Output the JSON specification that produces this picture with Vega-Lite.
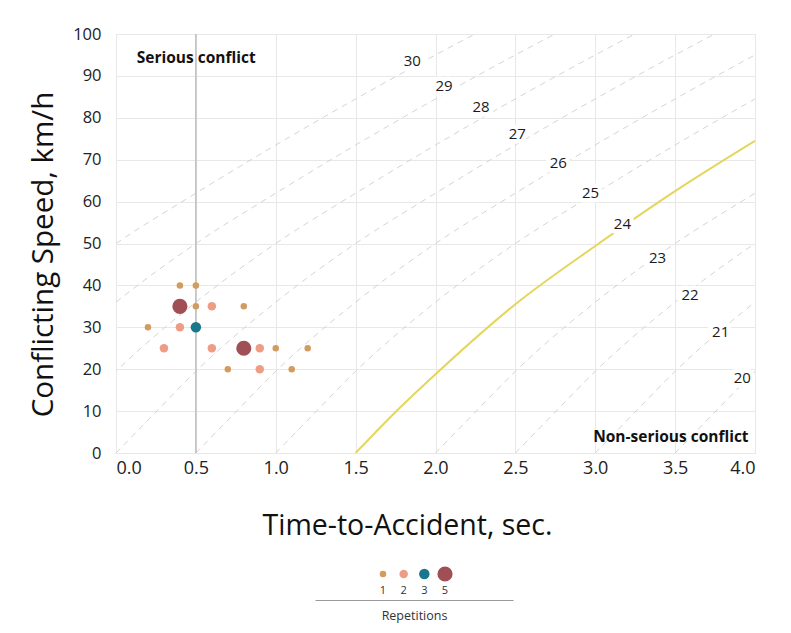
{
  "$schema": "https://vega.github.io/schema/vega-lite/v6.json",
  "background": "white",
  "padding": {"left": 28, "top": 25, "right": 20, "bottom": 5},
  "config": {
    "font": "Open Sans",
    "view": {"stroke": "#d2d2d2"},
    "axis": {"gridColor": "#e8e8e8", "labelColor": "#222", "titleColor": "#111", "titleFontWeight": "normal"}
  },
  "datasets": {
    "points": [
      {"ta": 0.4, "speed": 40, "rep": 1},
      {"ta": 0.5, "speed": 40, "rep": 1},
      {"ta": 0.4, "speed": 35, "rep": 5},
      {"ta": 0.5, "speed": 35, "rep": 1},
      {"ta": 0.6, "speed": 35, "rep": 2},
      {"ta": 0.8, "speed": 35, "rep": 1},
      {"ta": 0.2, "speed": 30, "rep": 1},
      {"ta": 0.4, "speed": 30, "rep": 2},
      {"ta": 0.5, "speed": 30, "rep": 3},
      {"ta": 0.3, "speed": 25, "rep": 2},
      {"ta": 0.6, "speed": 25, "rep": 2},
      {"ta": 0.8, "speed": 25, "rep": 5},
      {"ta": 0.9, "speed": 25, "rep": 2},
      {"ta": 1.0, "speed": 25, "rep": 1},
      {"ta": 1.2, "speed": 25, "rep": 1},
      {"ta": 0.7, "speed": 20, "rep": 1},
      {"ta": 0.9, "speed": 20, "rep": 2},
      {"ta": 1.1, "speed": 20, "rep": 1}
    ],
    "curves": [
      {"n": 30, "ta": -1.5, "speed": 0}, {"n": 30, "ta": -1.25, "speed": 9.8}, {"n": 30, "ta": -1.0, "speed": 19.5}, {"n": 30, "ta": -0.5, "speed": 36}, {"n": 30, "ta": 0.0, "speed": 50}, {"n": 30, "ta": 0.5, "speed": 62}, {"n": 30, "ta": 1.0, "speed": 73.5}, {"n": 30, "ta": 1.5, "speed": 84.5}, {"n": 30, "ta": 2.0, "speed": 95}, {"n": 30, "ta": 2.5, "speed": 105},
      {"n": 29, "ta": -1.0, "speed": 0}, {"n": 29, "ta": -0.75, "speed": 9.8}, {"n": 29, "ta": -0.5, "speed": 19.5}, {"n": 29, "ta": 0.0, "speed": 36}, {"n": 29, "ta": 0.5, "speed": 50}, {"n": 29, "ta": 1.0, "speed": 62}, {"n": 29, "ta": 1.5, "speed": 73.5}, {"n": 29, "ta": 2.0, "speed": 84.5}, {"n": 29, "ta": 2.5, "speed": 95}, {"n": 29, "ta": 3.0, "speed": 105},
      {"n": 28, "ta": -0.5, "speed": 0}, {"n": 28, "ta": -0.25, "speed": 9.8}, {"n": 28, "ta": 0.0, "speed": 19.5}, {"n": 28, "ta": 0.5, "speed": 36}, {"n": 28, "ta": 1.0, "speed": 50}, {"n": 28, "ta": 1.5, "speed": 62}, {"n": 28, "ta": 2.0, "speed": 73.5}, {"n": 28, "ta": 2.5, "speed": 84.5}, {"n": 28, "ta": 3.0, "speed": 95}, {"n": 28, "ta": 3.5, "speed": 105},
      {"n": 27, "ta": 0.0, "speed": 0}, {"n": 27, "ta": 0.25, "speed": 9.8}, {"n": 27, "ta": 0.5, "speed": 19.5}, {"n": 27, "ta": 1.0, "speed": 36}, {"n": 27, "ta": 1.5, "speed": 50}, {"n": 27, "ta": 2.0, "speed": 62}, {"n": 27, "ta": 2.5, "speed": 73.5}, {"n": 27, "ta": 3.0, "speed": 84.5}, {"n": 27, "ta": 3.5, "speed": 95}, {"n": 27, "ta": 4.0, "speed": 105},
      {"n": 26, "ta": 0.5, "speed": 0}, {"n": 26, "ta": 0.75, "speed": 9.8}, {"n": 26, "ta": 1.0, "speed": 19.5}, {"n": 26, "ta": 1.5, "speed": 36}, {"n": 26, "ta": 2.0, "speed": 50}, {"n": 26, "ta": 2.5, "speed": 62}, {"n": 26, "ta": 3.0, "speed": 73.5}, {"n": 26, "ta": 3.5, "speed": 84.5}, {"n": 26, "ta": 4.0, "speed": 95}, {"n": 26, "ta": 4.5, "speed": 105},
      {"n": 25, "ta": 1.0, "speed": 0}, {"n": 25, "ta": 1.25, "speed": 9.8}, {"n": 25, "ta": 1.5, "speed": 19.5}, {"n": 25, "ta": 2.0, "speed": 36}, {"n": 25, "ta": 2.5, "speed": 50}, {"n": 25, "ta": 3.0, "speed": 62}, {"n": 25, "ta": 3.5, "speed": 73.5}, {"n": 25, "ta": 4.0, "speed": 84.5}, {"n": 25, "ta": 4.5, "speed": 95},
      {"n": 23, "ta": 2.0, "speed": 0}, {"n": 23, "ta": 2.25, "speed": 9.8}, {"n": 23, "ta": 2.5, "speed": 19.5}, {"n": 23, "ta": 3.0, "speed": 36}, {"n": 23, "ta": 3.5, "speed": 50}, {"n": 23, "ta": 4.0, "speed": 62}, {"n": 23, "ta": 4.5, "speed": 73.5},
      {"n": 22, "ta": 2.5, "speed": 0}, {"n": 22, "ta": 2.75, "speed": 9.8}, {"n": 22, "ta": 3.0, "speed": 19.5}, {"n": 22, "ta": 3.5, "speed": 36}, {"n": 22, "ta": 4.0, "speed": 50}, {"n": 22, "ta": 4.5, "speed": 62},
      {"n": 21, "ta": 3.0, "speed": 0}, {"n": 21, "ta": 3.25, "speed": 9.8}, {"n": 21, "ta": 3.5, "speed": 19.5}, {"n": 21, "ta": 4.0, "speed": 36}, {"n": 21, "ta": 4.5, "speed": 50},
      {"n": 20, "ta": 3.5, "speed": 0}, {"n": 20, "ta": 3.75, "speed": 9.8}, {"n": 20, "ta": 4.0, "speed": 19.5}, {"n": 20, "ta": 4.5, "speed": 36}
    ],
    "threshold": [
      {"ta": 1.5, "speed": 0},
      {"ta": 1.75, "speed": 9.8},
      {"ta": 2.0, "speed": 18.8},
      {"ta": 2.5, "speed": 35.5},
      {"ta": 3.0, "speed": 49.4},
      {"ta": 3.5, "speed": 62.5},
      {"ta": 4.0, "speed": 74.5}
    ],
    "curveLabels": [
      {"label": "30", "ta": 1.855, "speed": 93.5},
      {"label": "29", "ta": 2.053, "speed": 87.6},
      {"label": "28", "ta": 2.285, "speed": 82.6},
      {"label": "27", "ta": 2.512, "speed": 76.2},
      {"label": "26", "ta": 2.769, "speed": 69.3},
      {"label": "25", "ta": 2.971, "speed": 62.0},
      {"label": "24", "ta": 3.17, "speed": 54.7},
      {"label": "23", "ta": 3.39, "speed": 46.5},
      {"label": "22", "ta": 3.593, "speed": 37.6},
      {"label": "21", "ta": 3.785, "speed": 28.9},
      {"label": "20", "ta": 3.92, "speed": 18.0}
    ],
    "legend": [
      {"rep": 1}, {"rep": 2}, {"rep": 3}, {"rep": 5}
    ]
  },
  "vconcat": [
    {
      "width": 639,
      "height": 419,
      "layer": [
        {
          "data": {"name": "curves"},
          "mark": {"type": "line", "clip": true, "interpolate": "monotone", "color": "#d4d4d4", "strokeWidth": 1, "strokeDash": [6, 5]},
          "encoding": {
            "x": {
              "field": "ta", "type": "quantitative",
              "scale": {"domain": [0, 4], "nice": false},
              "axis": {
                "values": [0, 0.5, 1, 1.5, 2, 2.5, 3, 3.5, 4],
                "format": ".1f", "labelFontSize": 18, "labelPadding": 6,
                "ticks": false, "domain": false,
                "title": "Time-to-Accident, sec.", "titleFontSize": 28.5, "titlePadding": 34, "titleX": 291
              }
            },
            "y": {
              "field": "speed", "type": "quantitative",
              "scale": {"domain": [0, 100], "nice": false},
              "axis": {
                "values": [0, 10, 20, 30, 40, 50, 60, 70, 80, 90, 100],
                "labelFontSize": 16.5, "labelPadding": 15,
                "ticks": false, "domain": false,
                "title": "Conflicting Speed, km/h", "titleFontSize": 29.5, "titlePadding": 14, "titleY": 220
              }
            },
            "detail": {"field": "n", "type": "nominal"}
          }
        },
        {
          "data": {"values": [{"ta": 0.5}]},
          "mark": {"type": "rule", "color": "#bdbdbd", "strokeWidth": 1.5},
          "encoding": {"x": {"field": "ta", "type": "quantitative"}}
        },
        {
          "data": {"name": "threshold"},
          "mark": {"type": "line", "clip": true, "interpolate": "monotone", "color": "#e4d65c", "strokeWidth": 2},
          "encoding": {
            "x": {"field": "ta", "type": "quantitative"},
            "y": {"field": "speed", "type": "quantitative"}
          }
        },
        {
          "data": {"name": "curveLabels"},
          "mark": {"type": "text", "fontSize": 15, "stroke": "white", "strokeWidth": 9, "strokeJoin": "round", "color": "white"},
          "encoding": {
            "x": {"field": "ta", "type": "quantitative"},
            "y": {"field": "speed", "type": "quantitative"},
            "text": {"field": "label"}
          }
        },
        {
          "data": {"name": "curveLabels"},
          "mark": {"type": "text", "fontSize": 15, "color": "#1a1a1a"},
          "encoding": {
            "x": {"field": "ta", "type": "quantitative"},
            "y": {"field": "speed", "type": "quantitative"},
            "text": {"field": "label"}
          }
        },
        {
          "data": {"values": [{"label": "Serious conflict", "ta": 0.13, "speed": 94.2}]},
          "mark": {"type": "text", "fontSize": 15.5, "fontWeight": "bold", "color": "#111", "align": "left"},
          "encoding": {
            "x": {"field": "ta", "type": "quantitative"},
            "y": {"field": "speed", "type": "quantitative"},
            "text": {"field": "label"}
          }
        },
        {
          "data": {"values": [{"label": "Non-serious conflict", "ta": 3.96, "speed": 3.7}]},
          "mark": {"type": "text", "fontSize": 15.5, "fontWeight": "bold", "color": "#111", "align": "right"},
          "encoding": {
            "x": {"field": "ta", "type": "quantitative"},
            "y": {"field": "speed", "type": "quantitative"},
            "text": {"field": "label"}
          }
        },
        {
          "data": {"name": "points"},
          "mark": {"type": "circle", "opacity": 1},
          "encoding": {
            "x": {"field": "ta", "type": "quantitative"},
            "y": {"field": "speed", "type": "quantitative"},
            "color": {"field": "rep", "type": "ordinal", "scale": {"domain": [1, 2, 3, 5], "range": ["#d39b5c", "#ee9c83", "#16788a", "#a04f55"]}, "legend": null},
            "size": {"field": "rep", "type": "ordinal", "scale": {"type": "ordinal", "domain": [1, 2, 3, 5], "range": [42, 72, 110, 230]}, "legend": null}
          }
        }
      ]
    },
    {
      "hconcat": [
        {
          "width": 179,
          "height": 52,
          "view": {"stroke": null},
          "data": {"values": []},
          "mark": "point"
        },
        {
          "width": 198,
          "height": 52,
          "view": {"stroke": null},
          "layer": [
            {
              "data": {"name": "legend"},
              "encoding": {
                "x": {
                  "field": "rep", "type": "ordinal",
                  "scale": {"type": "point", "range": [68, 130], "padding": 0},
                  "axis": null
                }
              },
              "layer": [
                {
                  "mark": {"type": "circle", "opacity": 1},
                  "encoding": {
                    "color": {"field": "rep", "type": "ordinal", "scale": {"domain": [1, 2, 3, 5], "range": ["#d39b5c", "#ee9c83", "#16788a", "#a04f55"]}, "legend": null},
                    "size": {"field": "rep", "type": "ordinal", "scale": {"type": "ordinal", "domain": [1, 2, 3, 5], "range": [42, 72, 110, 230]}, "legend": null}
                  }
                },
                {
                  "mark": {"type": "text", "dy": 17, "fontSize": 11, "color": "#333"},
                  "encoding": {
                    "text": {"field": "rep"}
                  }
                }
              ]
            },
            {
              "data": {"values": [{"d": 0.5}]},
              "mark": {"type": "rule", "opacity": 0},
              "encoding": {
                "x": {
                  "field": "d", "type": "quantitative",
                  "scale": {"domain": [0, 1]},
                  "axis": {"domain": true, "domainColor": "#9a9a9a", "domainWidth": 1, "ticks": false, "labels": false, "grid": false, "title": "Repetitions", "titleFontSize": 12.5, "titlePadding": 9, "titleColor": "#333"}
                }
              }
            }
          ],
          "resolve": {"scale": {"x": "independent"}, "axis": {"x": "independent"}}
        }
      ],
      "spacing": 20
    }
  ],
  "spacing": 8,
  "center": false,
  "resolve": {"scale": {"x": "independent", "y": "independent", "color": "shared", "size": "shared"}}
}
